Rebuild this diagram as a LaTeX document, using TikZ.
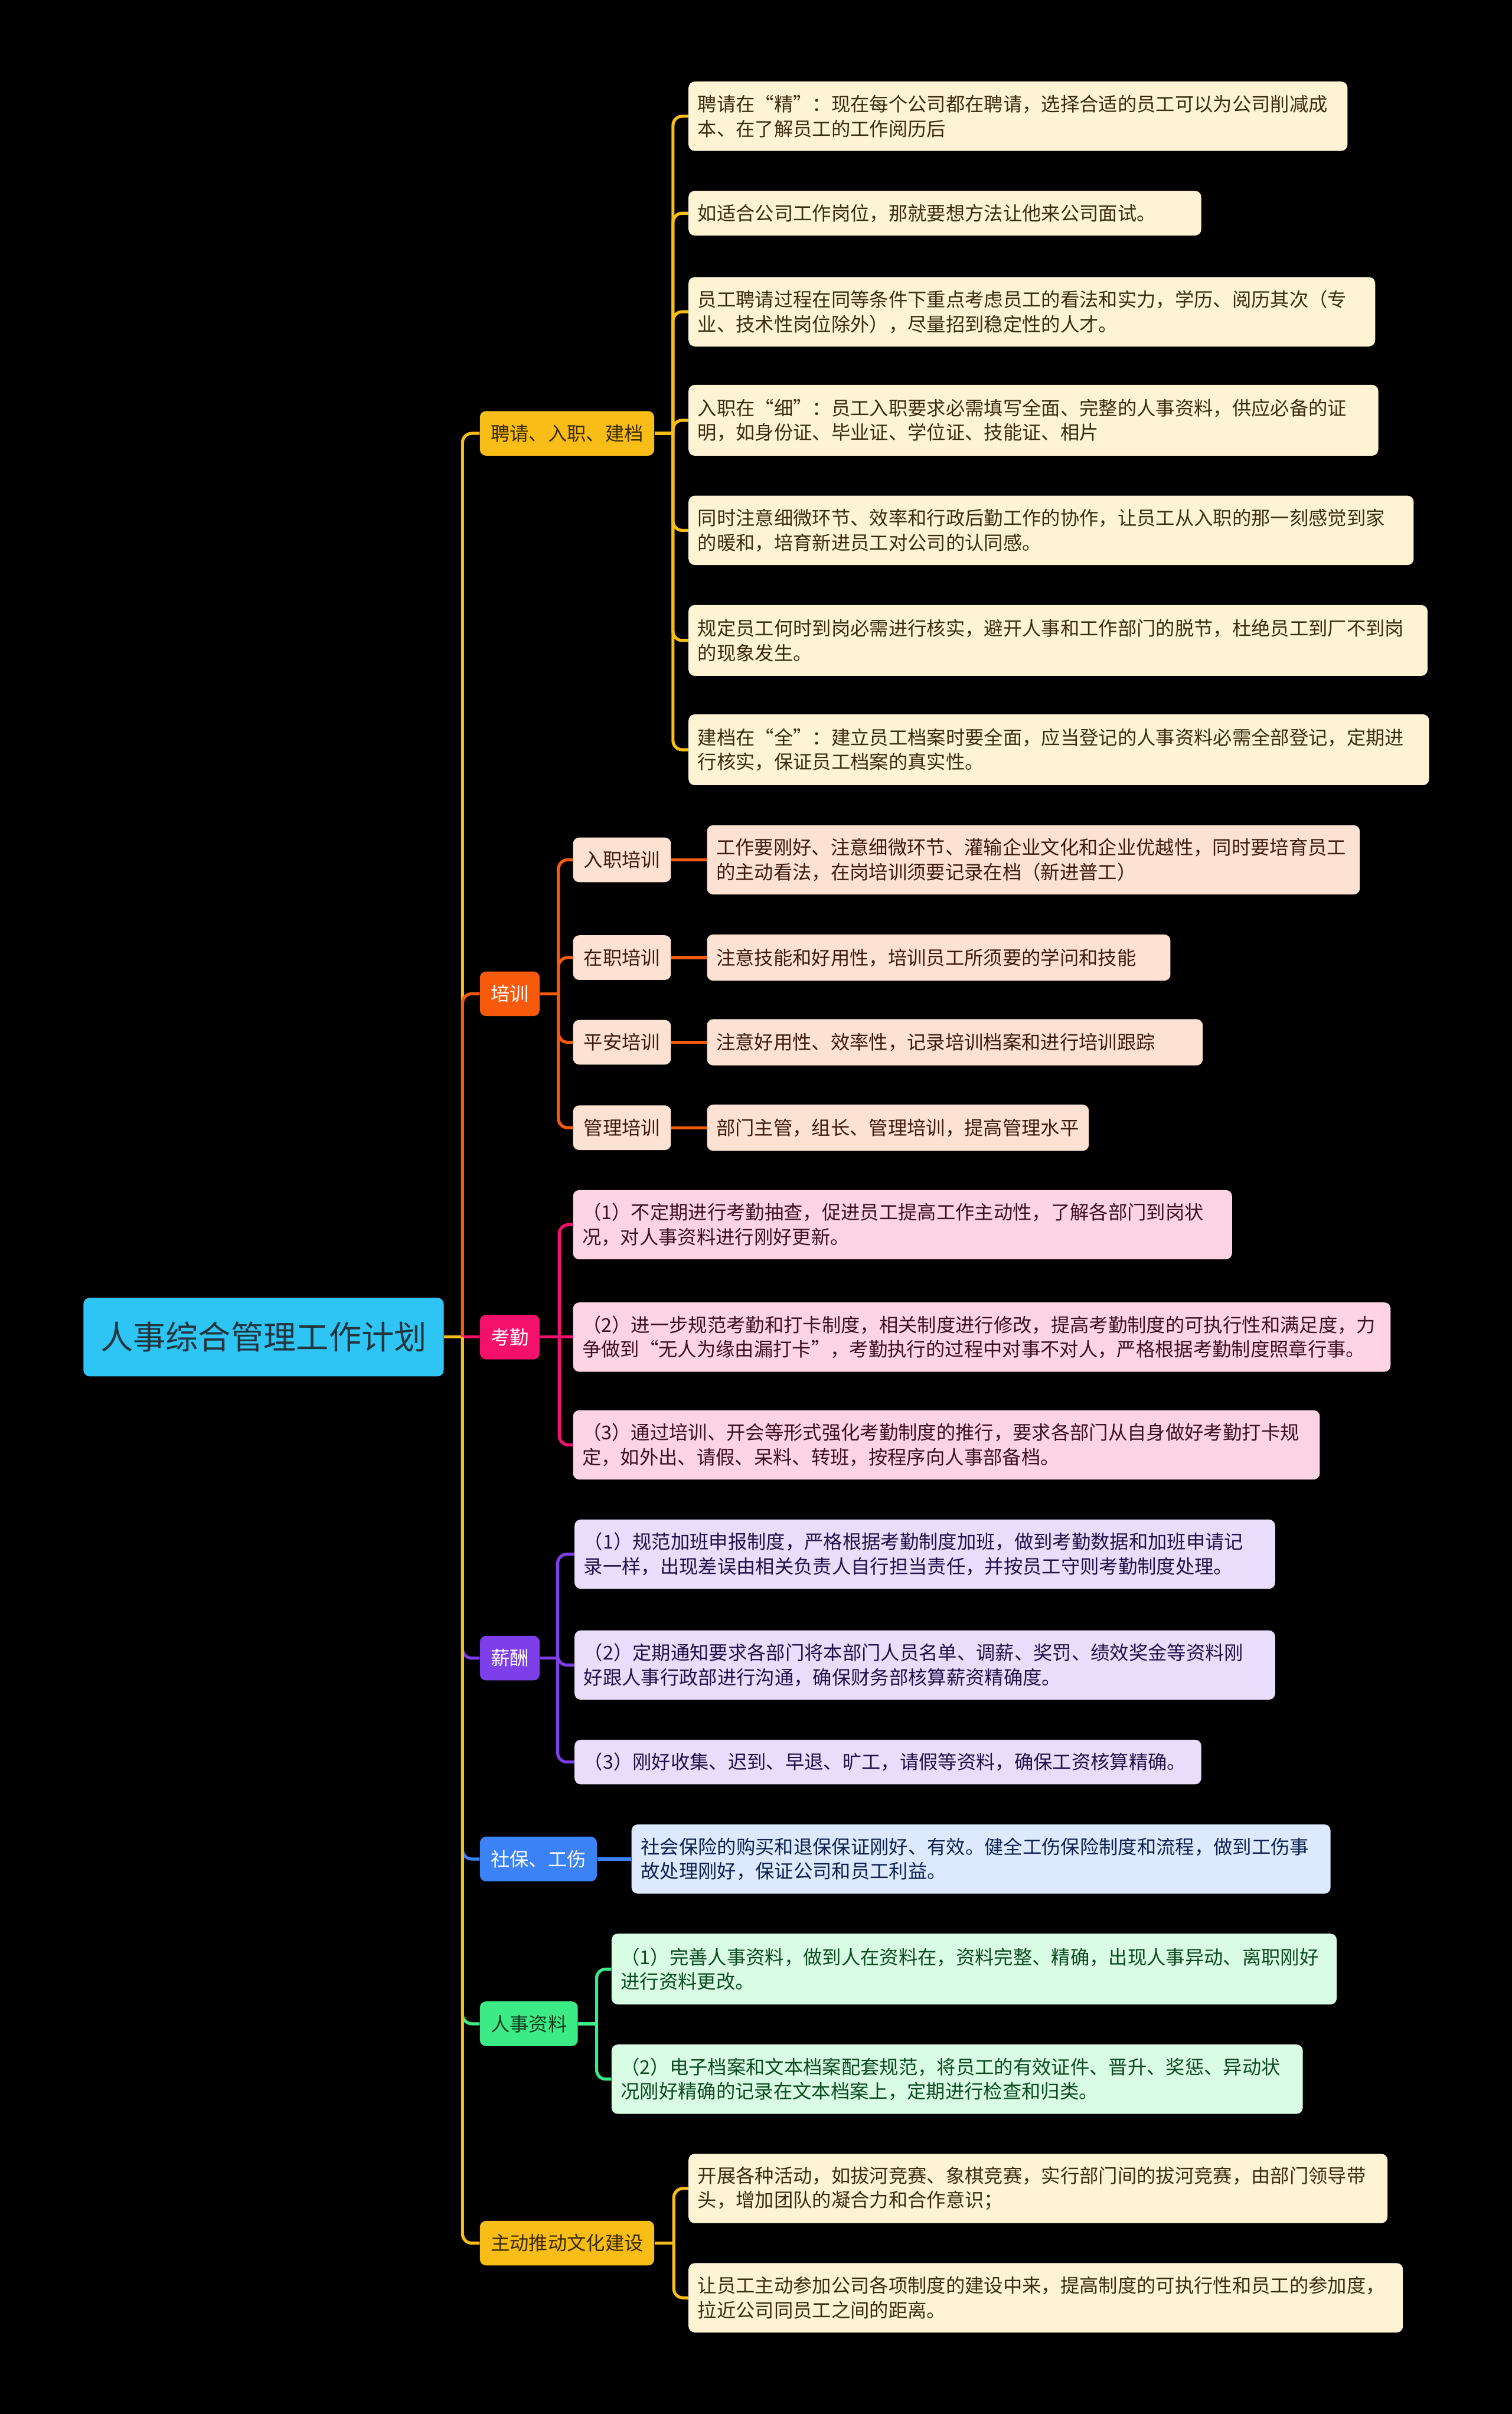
\documentclass[tikz,border=0pt]{standalone}
\usepackage{fontspec}
\setmainfont{Noto Sans CJK SC}

\definecolor{rootfill}{HTML}{2EC5F4}
\definecolor{roottext}{HTML}{22343E}
\definecolor{yellowc}{HTML}{F8BD16}
\definecolor{yellowtext}{HTML}{3B2A00}
\definecolor{orangec}{HTML}{F85A0C}
\definecolor{pinkc}{HTML}{F3116C}
\definecolor{purplec}{HTML}{7C3FEA}
\definecolor{bluec}{HTML}{3B82F6}
\definecolor{greenc}{HTML}{3DEB86}
\definecolor{greentext}{HTML}{0E3B1E}
\definecolor{cream}{HTML}{FEF4D4}
\definecolor{creamtext}{HTML}{3A2C0C}
\definecolor{peach}{HTML}{FDE2D4}
\definecolor{peachtext}{HTML}{3D1A0A}
\definecolor{rose}{HTML}{FED3E3}
\definecolor{rosetext}{HTML}{3D0F22}
\definecolor{lavender}{HTML}{E8DEFB}
\definecolor{lavendertext}{HTML}{221048}
\definecolor{skyc}{HTML}{DCE9FE}
\definecolor{skytext}{HTML}{0E2150}
\definecolor{mint}{HTML}{D8FCE4}
\definecolor{minttext}{HTML}{0C4A1F}

\begin{document}
\begin{tikzpicture}[x=1pt, y=-1pt,
  box/.style={anchor=west, rounded corners=4pt, inner xsep=6pt, inner ysep=0pt,
    font=\fontsize{12.4pt}{16pt}\selectfont},
  topic/.style={box, minimum height=29pt, inner xsep=7pt},
  leaf/.style={box, align=left},
  hireleaf/.style={leaf, fill=cream, text=creamtext},
  trainleaf/.style={leaf, fill=peach, text=peachtext},
  attendleaf/.style={leaf, fill=rose, text=rosetext},
  payleaf/.style={leaf, fill=lavender, text=lavendertext},
  insureleaf/.style={leaf, fill=skyc, text=skytext},
  fileleaf/.style={leaf, fill=mint, text=minttext},
  link/.style={line width=2pt, rounded corners=6pt},
]
\fill[black] (0,0) rectangle (982,1568);

% root and first level
\node[box, fill=rootfill, text=roottext, minimum width=234pt, minimum height=51pt,
  inner xsep=0pt, font=\fontsize{21.2pt}{25pt}\selectfont] (root) at (54,868.5) {人事综合管理工作计划};
\node[topic, fill=yellowc, text=yellowtext] (hire) at (311.5,281.5) {聘请、入职、建档};
\node[topic, fill=orangec, text=white] (train) at (311.5,645.5) {培训};
\node[topic, fill=pinkc, text=white] (attend) at (311.5,868.5) {考勤};
\node[topic, fill=purplec, text=white] (pay) at (311.5,1077) {薪酬};
\node[topic, fill=bluec, text=white] (insure) at (311.5,1207.5) {社保、工伤};
\node[topic, fill=greenc, text=greentext] (file) at (311.5,1314.5) {人事资料};
\node[topic, fill=yellowc, text=yellowtext] (culture) at (311.5,1457) {主动推动文化建设};

% hiring
\node[hireleaf, text width=416pt, minimum height=45pt] (hire1) at (447,75.5) {聘请在“精”：现在每个公司都在聘请，选择合适的员工可以为公司削减成\\本、在了解员工的工作阅历后};
\node[hireleaf, text width=321pt, minimum height=29pt] (hire2) at (447,138.5) {如适合公司工作岗位，那就要想方法让他来公司面试。};
\node[hireleaf, text width=434pt, minimum height=45pt] (hire3) at (447,202.5) {员工聘请过程在同等条件下重点考虑员工的看法和实力，学历、阅历其次（专\\业、技术性岗位除外），尽量招到稳定性的人才。};
\node[hireleaf, text width=436pt, minimum height=46pt] (hire4) at (447,273) {入职在“细”：员工入职要求必需填写全面、完整的人事资料，供应必备的证\\明，如身份证、毕业证、学位证、技能证、相片};
\node[hireleaf, text width=459pt, minimum height=45pt] (hire5) at (447,344.5) {同时注意细微环节、效率和行政后勤工作的协作，让员工从入职的那一刻感觉到家\\的暖和，培育新进员工对公司的认同感。};
\node[hireleaf, text width=468pt, minimum height=46pt] (hire6) at (447,416) {规定员工何时到岗必需进行核实，避开人事和工作部门的脱节，杜绝员工到厂不到岗\\的现象发生。};
\node[hireleaf, text width=469pt, minimum height=46pt] (hire7) at (447,487) {建档在“全”：建立员工档案时要全面，应当登记的人事资料必需全部登记，定期进\\行核实，保证员工档案的真实性。};

% training
\node[topic, fill=peach, text=peachtext] (train1) at (372,558.5) {入职培训};
\node[topic, fill=peach, text=peachtext] (train2) at (372,622) {在职培训};
\node[topic, fill=peach, text=peachtext] (train3) at (372,677) {平安培训};
\node[topic, fill=peach, text=peachtext] (train4) at (372,732.5) {管理培训};
\node[trainleaf, text width=412pt, minimum height=45pt] (train1d) at (459,558.5) {工作要刚好、注意细微环节、灌输企业文化和企业优越性，同时要培育员工\\的主动看法，在岗培训须要记录在档（新进普工）};
\node[trainleaf, text width=289pt, minimum height=30pt] (train2d) at (459,622) {注意技能和好用性，培训员工所须要的学问和技能};
\node[trainleaf, text width=310pt, minimum height=30pt] (train3d) at (459,677) {注意好用性、效率性，记录培训档案和进行培训跟踪};
\node[trainleaf, text width=236pt, minimum height=30pt] (train4d) at (459,732.5) {部门主管，组长、管理培训，提高管理水平};

% attendance
\node[attendleaf, text width=416pt, minimum height=45pt] (attend1) at (372,795.5) {（1）不定期进行考勤抽查，促进员工提高工作主动性，了解各部门到岗状\\况，对人事资料进行刚好更新。};
\node[attendleaf, text width=519pt, minimum height=45pt] (attend2) at (372,868.5) {（2）进一步规范考勤和打卡制度，相关制度进行修改，提高考勤制度的可执行性和满足度，力\\争做到“无人为缘由漏打卡”，考勤执行的过程中对事不对人，严格根据考勤制度照章行事。};
\node[attendleaf, text width=473pt, minimum height=45pt] (attend3) at (372,938.5) {（3）通过培训、开会等形式强化考勤制度的推行，要求各部门从自身做好考勤打卡规\\定，如外出、请假、呆料、转班，按程序向人事部备档。};

% pay
\node[payleaf, text width=443pt, minimum height=45pt] (pay1) at (373,1009.5) {（1）规范加班申报制度，严格根据考勤制度加班，做到考勤数据和加班申请记\\录一样，出现差误由相关负责人自行担当责任，并按员工守则考勤制度处理。};
\node[payleaf, text width=443pt, minimum height=45pt] (pay2) at (373,1081.5) {（2）定期通知要求各部门将本部门人员名单、调薪、奖罚、绩效奖金等资料刚\\好跟人事行政部进行沟通，确保财务部核算薪资精确度。};
\node[payleaf, text width=395pt, minimum height=29pt] (pay3) at (373,1144.5) {（3）刚好收集、迟到、早退、旷工，请假等资料，确保工资核算精确。};

% insurance
\node[insureleaf, text width=442pt, minimum height=45pt] (insure1) at (410,1207.5) {社会保险的购买和退保保证刚好、有效。健全工伤保险制度和流程，做到工伤事\\故处理刚好，保证公司和员工利益。};

% files
\node[fileleaf, text width=459pt, minimum height=46pt] (file1) at (397,1279) {（1）完善人事资料，做到人在资料在，资料完整、精确，出现人事异动、离职刚好\\进行资料更改。};
\node[fileleaf, text width=437pt, minimum height=45pt] (file2) at (397,1350.5) {（2）电子档案和文本档案配套规范，将员工的有效证件、晋升、奖惩、异动状\\况刚好精确的记录在文本档案上，定期进行检查和归类。};

% culture
\node[hireleaf, text width=442pt, minimum height=45pt] (culture1) at (447,1421.5) {开展各种活动，如拔河竞赛、象棋竞赛，实行部门间的拔河竞赛，由部门领导带\\头，增加团队的凝合力和合作意识；};
\node[hireleaf, text width=452pt, minimum height=45pt] (culture2) at (447,1492.5) {让员工主动参加公司各项制度的建设中来，提高制度的可执行性和员工的参加度，\\拉近公司同员工之间的距离。};

% trunk from the root
\draw[link, yellowc] (root.east) -- ++(12,0) coordinate (root-j);
\draw[link, yellowc] (root-j) |- (hire.west);
\draw[link, orangec] (root-j) |- (train.west);
\draw[link, pinkc] (root-j) -- (attend.west);
\draw[link, purplec] (root-j) |- (pay.west);
\draw[link, bluec] (root-j) |- (insure.west);
\draw[link, greenc] (root-j) |- (file.west);
\draw[link, yellowc] (root-j) |- (culture.west);

% branches
\draw[link, yellowc] (hire.east) -- ++(12,0) coordinate (hire-j);
\foreach \n in {1,...,7}
  \draw[link, yellowc] (hire-j) |- (hire\n.west);

\draw[link, orangec] (train.east) -- ++(12,0) coordinate (train-j);
\foreach \n in {1,...,4} {
  \draw[link, orangec] (train-j) |- (train\n.west);
  \draw[link, orangec] (train\n.east) -- (train\n d.west);
}

\draw[link, pinkc] (attend.east) -- ++(12.5,0) coordinate (attend-j);
\draw[link, pinkc] (attend-j) |- (attend1.west);
\draw[link, pinkc] (attend-j) -- (attend2.west);
\draw[link, pinkc] (attend-j) |- (attend3.west);

\draw[link, purplec] (pay.east) -- ++(11.5,0) coordinate (pay-j);
\foreach \n in {1,2,3}
  \draw[link, purplec] (pay-j) |- (pay\n.west);

\draw[link, bluec] (insure.east) -- (insure1.west);

\draw[link, greenc] (file.east) -- ++(12,0) coordinate (file-j);
\foreach \n in {1,2}
  \draw[link, greenc] (file-j) |- (file\n.west);

\draw[link, yellowc] (culture.east) -- ++(12.5,0) coordinate (culture-j);
\foreach \n in {1,2}
  \draw[link, yellowc] (culture-j) |- (culture\n.west);
\end{tikzpicture}
\end{document}
